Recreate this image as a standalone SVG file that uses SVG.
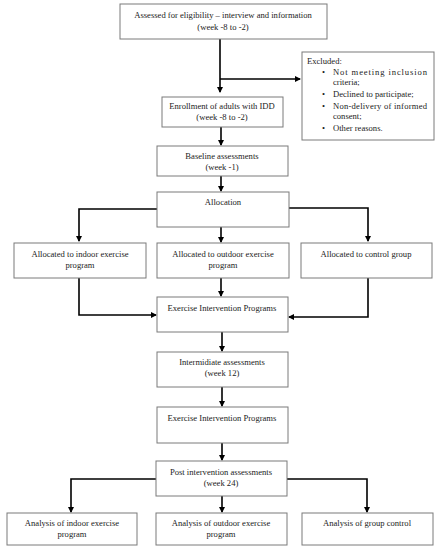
<svg xmlns="http://www.w3.org/2000/svg" width="439" height="550" viewBox="0 0 439 550">
<style>
.box{fill:#fff;stroke:#7a7a7a;stroke-width:1}
.t{font-family:"Liberation Serif","DejaVu Serif",serif;font-size:8.6px;fill:#222;text-anchor:middle}
.l{font-family:"Liberation Serif","DejaVu Serif",serif;font-size:8.6px;fill:#222}
.c{fill:none;stroke:#000;stroke-width:1.6}
</style>
<defs>
<marker id="a" markerWidth="6" markerHeight="6" refX="5" refY="3" orient="auto" markerUnits="userSpaceOnUse">
<path d="M0,0 L6,3 L0,6 Z" fill="#000"/>
</marker>
</defs>
<rect width="439" height="550" fill="#fff"/>
<g id="connectors">
<path class="c" d="M220,39 V92" marker-end="url(#a)"/>
<path class="c" d="M220,79 H300" marker-end="url(#a)"/>
<path class="c" d="M221,127 V145" marker-end="url(#a)"/>
<path class="c" d="M221,176 V191" marker-end="url(#a)"/>
<path class="c" d="M157,209 H79 V241" marker-end="url(#a)"/>
<path class="c" d="M221,227 V242" marker-end="url(#a)"/>
<path class="c" d="M289,208 H368 V241" marker-end="url(#a)"/>
<path class="c" d="M79,278 V315 H156" marker-end="url(#a)"/>
<path class="c" d="M221,278 V296" marker-end="url(#a)"/>
<path class="c" d="M368,278 V317 H289" marker-end="url(#a)"/>
<path class="c" d="M222,332 V351" marker-end="url(#a)"/>
<path class="c" d="M222,387 V406" marker-end="url(#a)"/>
<path class="c" d="M222,443 V460" marker-end="url(#a)"/>
<path class="c" d="M156,479 H71 V512" marker-end="url(#a)"/>
<path class="c" d="M222,496 V512" marker-end="url(#a)"/>
<path class="c" d="M287,479 H367 V512" marker-end="url(#a)"/>
</g>
<g id="n1"><rect class="box" x="120" y="4" width="207" height="35"/>
<text class="t" x="223" y="18">Assessed for eligibility – interview and information</text>
<text class="t" x="223" y="30">(week -8 to -2)</text></g>
<g id="n2"><rect class="box" x="302" y="52" width="132" height="88"/>
<text class="l" x="307" y="64">Excluded:</text>
<text class="l" x="322" y="75">•</text><text class="l" x="333" y="75" textLength="94" lengthAdjust="spacing">Not meeting inclusion</text>
<text class="l" x="333" y="85">criteria;</text>
<text class="l" x="322" y="97">•</text><text class="l" x="333" y="97">Declined to participate;</text>
<text class="l" x="322" y="109">•</text><text class="l" x="333" y="109" textLength="94" lengthAdjust="spacing">Non-delivery of informed</text>
<text class="l" x="333" y="119">consent;</text>
<text class="l" x="322" y="131">•</text><text class="l" x="333" y="131">Other reasons.</text></g>
<g id="n3"><rect class="box" x="162" y="97" width="121" height="30"/>
<text class="t" x="222" y="109">Enrollment of adults with IDD</text>
<text class="t" x="222" y="120">(week -8 to -2)</text></g>
<g id="n4"><rect class="box" x="157" y="146" width="131" height="30"/>
<text class="t" x="222" y="159">Baseline assessments</text>
<text class="t" x="222" y="170">(week -1)</text></g>
<g id="n5"><rect class="box" x="157" y="192" width="132" height="35"/>
<text class="t" x="223" y="205">Allocation</text></g>
<g id="n6"><rect class="box" x="14" y="243" width="132" height="35"/>
<text class="t" x="80" y="257">Allocated to indoor exercise</text>
<text class="t" x="80" y="268">program</text></g>
<g id="n7"><rect class="box" x="157" y="243" width="132" height="35"/>
<text class="t" x="223" y="257">Allocated to outdoor exercise</text>
<text class="t" x="223" y="268">program</text></g>
<g id="n8"><rect class="box" x="301" y="243" width="131" height="35"/>
<text class="t" x="366" y="257">Allocated to control group</text></g>
<g id="n9"><rect class="box" x="157" y="297" width="131" height="35"/>
<text class="t" x="222" y="311">Exercise Intervention Programs</text></g>
<g id="n10"><rect class="box" x="157" y="352" width="131" height="35"/>
<text class="t" x="222" y="365">Intermidiate assessments</text>
<text class="t" x="222" y="376">(week 12)</text></g>
<g id="n11"><rect class="box" x="157" y="407" width="131" height="36"/>
<text class="t" x="222" y="421">Exercise Intervention Programs</text></g>
<g id="n12"><rect class="box" x="156" y="461" width="131" height="35"/>
<text class="t" x="221" y="475">Post intervention assessments</text>
<text class="t" x="221" y="486">(week 24)</text></g>
<g id="n13"><rect class="box" x="7" y="513" width="130" height="32"/>
<text class="t" x="72" y="526">Analysis of indoor exercise</text>
<text class="t" x="72" y="537">program</text></g>
<g id="n14"><rect class="box" x="156" y="513" width="131" height="32"/>
<text class="t" x="221" y="526">Analysis of outdoor exercise</text>
<text class="t" x="221" y="537">program</text></g>
<g id="n15"><rect class="box" x="302" y="513" width="131" height="32"/>
<text class="t" x="367" y="526">Analysis of group control</text></g>
</svg>
